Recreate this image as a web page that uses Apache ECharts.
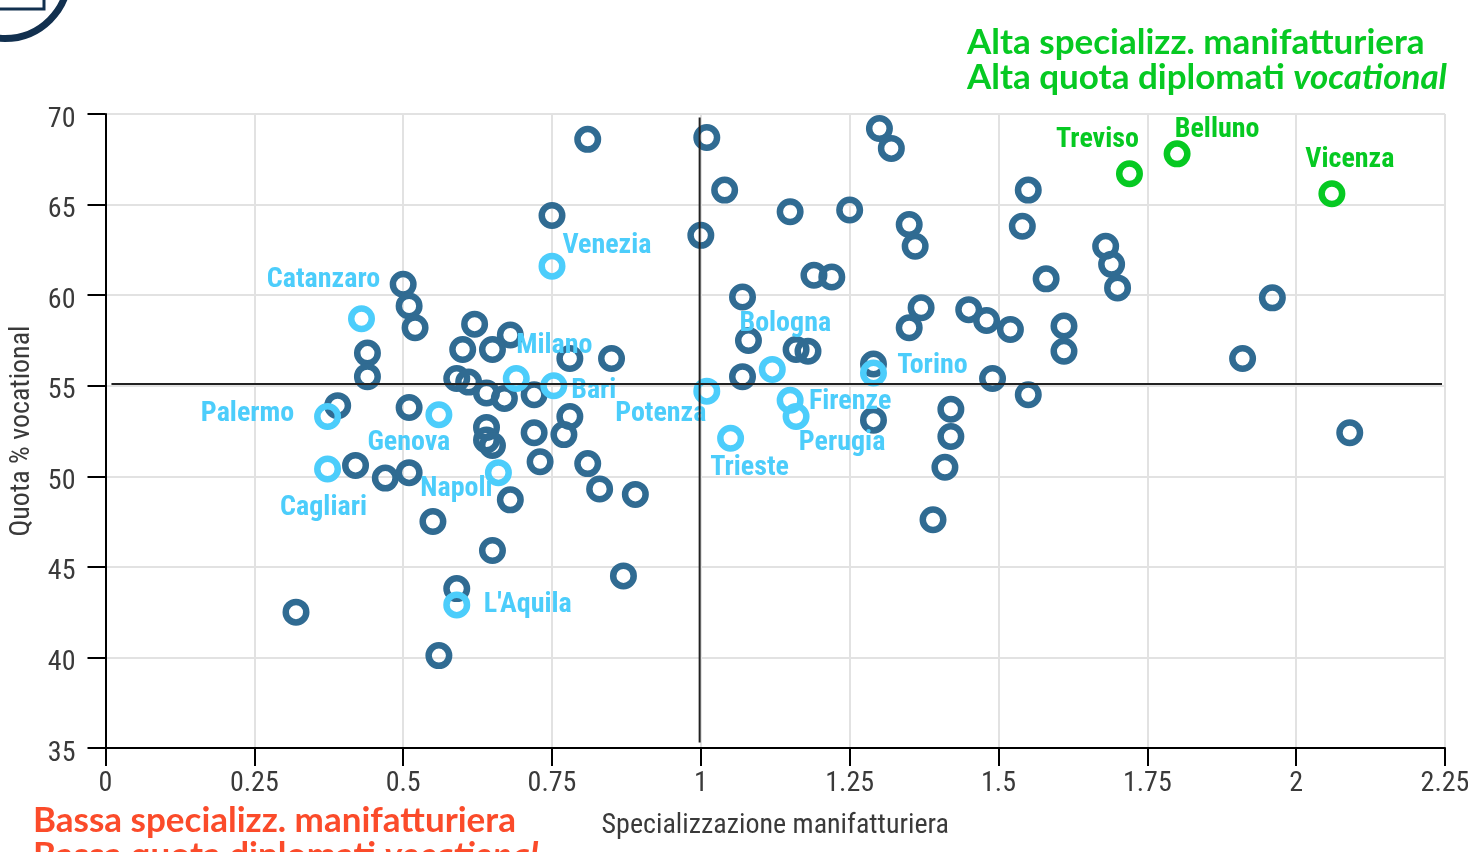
<!DOCTYPE html>
<html><head><meta charset="utf-8">
<style>html,body{margin:0;padding:0;background:#fff;overflow:hidden}#c{width:1468px;height:852px}</style>
<script src="https://cdn.jsdelivr.net/npm/echarts@6/dist/echarts.min.js"></script>
</head><body><div id="c"></div>
<script>
const otherProvinces = [[0.81,68.6],[1.01,68.7],[1.30,69.2],[1.32,68.1],[1.04,65.8],[1.15,64.6],[1.25,64.7],[1.35,63.9],[1.36,62.7],[1.55,65.8],[1.54,63.8],[1.68,62.7],[1.69,61.7],[1.70,60.4],[1.58,60.9],[1.96,59.85],[0.75,64.4],[1.00,63.3],[1.19,61.1],[1.22,61.0],[1.07,59.9],[0.50,60.6],[0.51,59.4],[0.52,58.2],[1.37,59.3],[1.35,58.2],[1.45,59.2],[1.48,58.6],[1.52,58.1],[1.61,58.3],[1.61,56.9],[1.91,56.5],[1.08,57.5],[1.16,57.0],[1.18,56.9],[1.29,56.2],[1.07,55.5],[1.49,55.4],[1.55,54.5],[1.42,53.7],[1.42,52.2],[1.29,53.1],[1.41,50.5],[1.39,47.6],[2.09,52.4],[0.62,58.4],[0.68,57.8],[0.60,57.0],[0.65,57.0],[0.78,56.5],[0.85,56.5],[0.44,56.8],[0.44,55.5],[0.59,55.4],[0.61,55.2],[0.64,54.6],[0.67,54.3],[0.72,54.5],[0.39,53.9],[0.51,53.8],[0.78,53.3],[0.64,52.7],[0.64,52.0],[0.65,51.7],[0.72,52.4],[0.77,52.3],[0.73,50.8],[0.81,50.7],[0.42,50.6],[0.47,49.9],[0.51,50.2],[0.83,49.3],[0.89,49.0],[0.68,48.7],[0.55,47.5],[0.65,45.9],[0.87,44.5],[0.59,43.8],[0.32,42.5],[0.56,40.1]];
const cityNames = ["Catanzaro","Venezia","Milano","Bari","Potenza","Bologna","Torino","Firenze","Perugia","Trieste","Palermo","Genova","Napoli","Cagliari","L'Aquila"];
const cityX = [0.43,0.75,0.69,0.753,1.01,1.12,1.29,1.15,1.16,1.05,0.373,0.56,0.66,0.373,0.59];
const cityY = [58.7,61.6,55.4,55.0,54.7,55.9,55.7,54.2,53.3,52.1,53.3,53.4,50.2,50.4,42.9];
const topNames = ["Treviso","Belluno","Vicenza"];
const topX = [1.72,1.80,2.06];
const topY = [66.7,67.8,65.6];
const meanX = 0.998, meanY = 55.1;
const xLabel = "Specializzazione manifatturiera", yLabel = "Quota % vocational";
const greenLines = ["Alta specializz. manifatturiera","Alta quota diplomati ","vocational"];
const redLines = ["Bassa specializz. manifatturiera","Bassa quota diplomati ","vocational"];

const labelOffsets = {"Catanzaro":[-38,-39],"Venezia":[55,-20],"Milano":[38,-32],"Bari":[40,5],"Potenza":[-46,23],"Bologna":[13,-45],"Torino":[59,-7],"Firenze":[60,2],"Perugia":[46,26],"Trieste":[19,30],"Palermo":[-80,-3],"Genova":[-30,28],"Napoli":[-42,16],"Cagliari":[-4,39],"L'Aquila":[71,0],"Treviso":[-32,-34],"Belluno":[40,-24],"Vicenza":[18,-34]};
const NARROW = '"Roboto Condensed","Roboto",sans-serif';
const TITLEF = 'Lato,"Open Sans",sans-serif';
const ring = (c)=>({color:'rgba(0,0,0,0)',borderColor:c,borderWidth:6.5,opacity:1});
const named = (names,xs,ys,c)=>names.map((n,i)=>({name:n,value:[xs[i],ys[i]],
  label:{show:true,position:'inside',offset:labelOffsets[n],formatter:n,color:c,fontFamily:NARROW,fontWeight:'bold',fontSize:28}}));
const axisCommon = {axisLine:{onZero:false,lineStyle:{color:'#000',width:2}},axisTick:{length:18,lineStyle:{color:'#000',width:2}},
  splitLine:{show:true,lineStyle:{color:'#e2e2e2',width:2}},nameLocation:'middle',
  nameTextStyle:{fontFamily:NARROW,fontSize:28,color:'#3a3a3a'},
  axisLabel:{fontFamily:NARROW,fontSize:28,color:'#3a3a3a'}};
const title2 = (x,y,lines,c)=>({left:x,top:y,padding:0,text:`{a|${lines[0]}}\n{a|${lines[1]}}{b|${lines[2]}}`,
  textStyle:{rich:{a:{fontFamily:TITLEF,fontWeight:'bold',fontSize:35,color:c,lineHeight:35},b:{fontFamily:TITLEF,fontWeight:'bold',fontStyle:'italic',fontSize:35,color:c,lineHeight:35}}}});
const chart = echarts.init(document.getElementById('c'),null,{renderer:'canvas'});
chart.setOption({
  animation:false,backgroundColor:'#fff',
  title:[title2(967,25,greenLines,'#06c922'),title2(33,803,redLines,'#fb4b2a')],
  grid:{left:105.5,top:114,width:1339.5,height:634,outerBoundsMode:'none',containLabel:false},
  xAxis:Object.assign({},axisCommon,{type:'value',min:0,max:2.25,interval:0.25,name:xLabel,nameGap:64,
    axisLabel:Object.assign({},axisCommon.axisLabel,{margin:22,formatter:v=>String(v),hideOverlap:false,showMaxLabel:true,showMinLabel:true})}),
  yAxis:Object.assign({},axisCommon,{type:'value',min:35,max:70,interval:5,name:yLabel,nameGap:70,
    axisLabel:Object.assign({},axisCommon.axisLabel,{margin:30,verticalAlign:'top',lineHeight:11})}),
  series:[
    {type:'scatter',symbol:'circle',symbolSize:20.5,data:otherProvinces,itemStyle:ring('#306b92'),z:2},
    {type:'scatter',symbol:'circle',symbolSize:20.5,data:named(cityNames,cityX,cityY,'#4ccdfb'),itemStyle:ring('#4ccdfb'),z:3},
    {type:'scatter',symbol:'circle',symbolSize:20.5,data:named(topNames,topX,topY,'#06c922'),itemStyle:ring('#06c922'),z:3},
    {type:'line',symbol:'none',silent:true,data:[[meanX,35.3],[meanX,69.8]],lineStyle:{color:'#222',width:2},z:4},
    {type:'line',symbol:'none',silent:true,data:[[0.01,meanY],[2.245,meanY]],lineStyle:{color:'#222',width:2},z:4}
  ],
  graphic:[
    {type:'circle',shape:{cx:5,cy:-25,r:63.5},style:{fill:'none',stroke:'#12304f',lineWidth:7}},
    {type:'polyline',shape:{points:[[0,9],[44,9],[44,0]]},style:{fill:'none',stroke:'#12304f',lineWidth:3}}
  ]
});
</script></body></html>
